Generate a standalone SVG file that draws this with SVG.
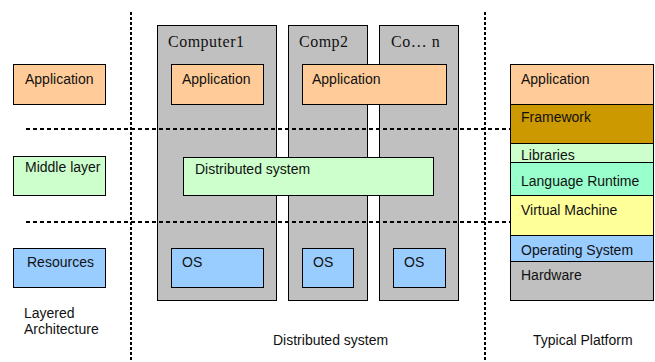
<svg xmlns="http://www.w3.org/2000/svg" width="655" height="362" viewBox="0 0 655 362">
  <style>
    .box { stroke: #000; stroke-width: 1; }
    .app { fill: #FFCC99; }
    .mid { fill: #CCFFCC; }
    .res { fill: #99CCFF; }
    .comp { fill: #C0C0C0; }
    .fw { fill: #CC9900; }
    .rt { fill: #99FFCC; }
    .vm { fill: #FFFF99; }
    .lbl { font-family: "Liberation Sans", Arial, sans-serif; font-size: 14px; fill: #111; }
    .serif { font-family: "Liberation Serif", "Times New Roman", serif; font-size: 16px; letter-spacing: 0.5px; fill: #111; }
    .vsep { stroke: #000; stroke-width: 2; stroke-dasharray: 3 2; fill: none; }
    .hsep { stroke: #000; stroke-width: 2; stroke-dasharray: 4 3; fill: none; }
  </style>

  <rect width="655" height="362" fill="#fff"/>

  <!-- Layered architecture column -->
  <g id="layer-application">
    <rect class="box app" x="13.5" y="64.5" width="92" height="40"/>
    <text class="lbl" x="25" y="84">Application</text>
  </g>
  <g id="layer-middle">
    <rect class="box mid" x="13.5" y="156.5" width="92" height="39"/>
    <text class="lbl" x="25" y="172">Middle layer</text>
  </g>
  <g id="layer-resources">
    <rect class="box res" x="13.5" y="248.5" width="92" height="39"/>
    <text class="lbl" x="27" y="267">Resources</text>
  </g>
  <g id="layered-caption">
    <text class="lbl" x="24" y="318">Layered</text>
    <text class="lbl" x="24" y="334">Architecture</text>
  </g>

  <!-- Computers -->
  <g id="computer1">
    <rect class="box comp" x="157.5" y="25.5" width="119" height="275"/>
    <text class="serif" x="168" y="47">Computer1</text>
  </g>
  <g id="computer2">
    <rect class="box comp" x="288.5" y="25.5" width="79" height="275"/>
    <text class="serif" x="299" y="47">Comp2</text>
  </g>
  <g id="computer-n">
    <rect class="box comp" x="379.5" y="25.5" width="79" height="275"/>
    <text class="serif" x="391" y="47">Co… n</text>
  </g>

  <g id="app1">
    <rect class="box app" x="171.5" y="64.5" width="92" height="40"/>
    <text class="lbl" x="182" y="84">Application</text>
  </g>
  <g id="app2">
    <rect class="box app" x="302.5" y="64.5" width="144" height="40"/>
    <text class="lbl" x="312" y="84">Application</text>
  </g>
  <g id="distributed-system">
    <rect class="box mid" x="183.5" y="157.5" width="250" height="38"/>
    <text class="lbl" x="195" y="174">Distributed system</text>
  </g>
  <g id="os1">
    <rect class="box res" x="171.5" y="248.5" width="92" height="39"/>
    <text class="lbl" x="182" y="267">OS</text>
  </g>
  <g id="os2">
    <rect class="box res" x="302.5" y="248.5" width="51" height="39"/>
    <text class="lbl" x="313" y="267">OS</text>
  </g>
  <g id="os3">
    <rect class="box res" x="393.5" y="248.5" width="52" height="39"/>
    <text class="lbl" x="404" y="267">OS</text>
  </g>
  <g id="distributed-caption">
    <text class="lbl" x="273" y="345">Distributed system</text>
  </g>

  <!-- Typical platform stack -->
  <g id="platform-application">
    <rect class="box app" x="510.5" y="64.5" width="143" height="40"/>
    <text class="lbl" x="521" y="84">Application</text>
  </g>
  <g id="platform-framework">
    <rect class="box fw" x="510.5" y="104.5" width="143" height="39"/>
    <text class="lbl" x="521" y="122">Framework</text>
  </g>
  <g id="platform-libraries">
    <rect class="box mid" x="510.5" y="143.5" width="143" height="19"/>
    <text class="lbl" x="521" y="160">Libraries</text>
  </g>
  <g id="platform-runtime">
    <rect class="box rt" x="510.5" y="162.5" width="143" height="33"/>
    <text class="lbl" x="521" y="186">Language Runtime</text>
  </g>
  <g id="platform-vm">
    <rect class="box vm" x="510.5" y="195.5" width="143" height="40"/>
    <text class="lbl" x="521" y="215">Virtual Machine</text>
  </g>
  <g id="platform-os">
    <rect class="box res" x="510.5" y="235.5" width="143" height="26"/>
    <text class="lbl" x="521" y="255">Operating System</text>
  </g>
  <g id="platform-hardware">
    <rect class="box comp" x="510.5" y="261.5" width="143" height="39"/>
    <text class="lbl" x="521" y="280">Hardware</text>
  </g>
  <g id="platform-caption">
    <text class="lbl" x="533" y="345">Typical Platform</text>
  </g>

  <!-- Separator lines -->
  <g id="connectors">
    <line class="vsep" x1="131" y1="12" x2="131" y2="362"/>
    <line class="vsep" x1="485" y1="12" x2="485" y2="362"/>
    <line class="hsep" x1="26" y1="129" x2="510" y2="129"/>
    <line class="hsep" x1="26" y1="222" x2="510" y2="222"/>
  </g>
</svg>
